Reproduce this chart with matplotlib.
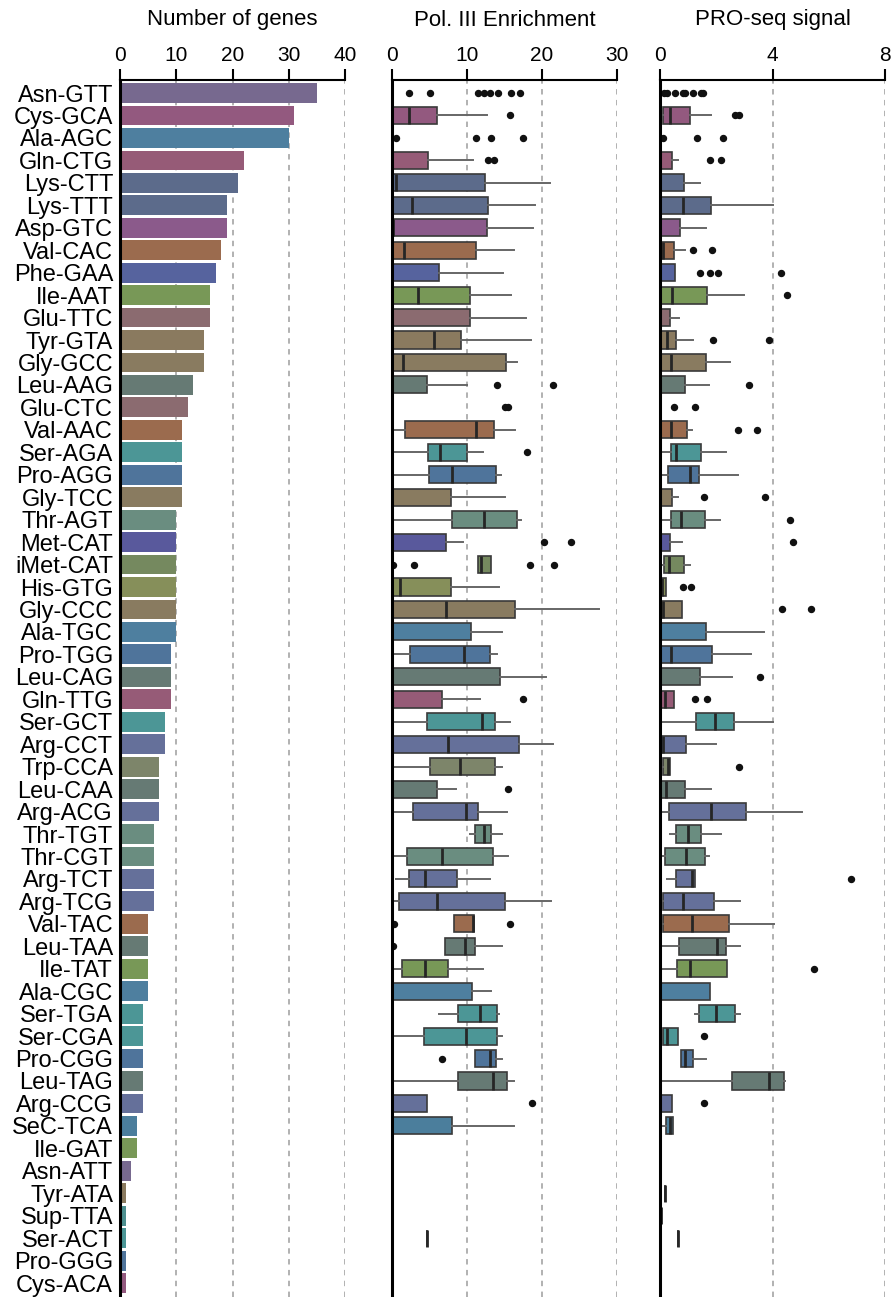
import numpy as np
import matplotlib
matplotlib.use("Agg")
import matplotlib.pyplot as plt

plt.rcParams['font.family'] = ['Liberation Sans', 'DejaVu Sans']

# tRNA isotypes, ordered by gene count
isotypes = ['Asn-GTT', 'Cys-GCA', 'Ala-AGC', 'Gln-CTG', 'Lys-CTT', 'Lys-TTT', 'Asp-GTC',
            'Val-CAC', 'Phe-GAA', 'Ile-AAT', 'Glu-TTC', 'Tyr-GTA', 'Gly-GCC', 'Leu-AAG',
            'Glu-CTC', 'Val-AAC', 'Ser-AGA', 'Pro-AGG', 'Gly-TCC', 'Thr-AGT', 'Met-CAT',
            'iMet-CAT', 'His-GTG', 'Gly-CCC', 'Ala-TGC', 'Pro-TGG', 'Leu-CAG', 'Gln-TTG',
            'Ser-GCT', 'Arg-CCT', 'Trp-CCA', 'Leu-CAA', 'Arg-ACG', 'Thr-TGT', 'Thr-CGT',
            'Arg-TCT', 'Arg-TCG', 'Val-TAC', 'Leu-TAA', 'Ile-TAT', 'Ala-CGC', 'Ser-TGA',
            'Ser-CGA', 'Pro-CGG', 'Leu-TAG', 'Arg-CCG', 'SeC-TCA', 'Ile-GAT', 'Asn-ATT',
            'Tyr-ATA', 'Sup-TTA', 'Ser-ACT', 'Pro-GGG', 'Cys-ACA']

n_genes = [35, 31, 30, 22, 21, 19, 19, 18, 17, 16, 16, 15, 15, 13, 12, 11, 11, 11, 11,
           10, 10, 10, 10, 10, 10, 9, 9, 9, 8, 8, 7, 7, 7, 6, 6, 6, 6, 5, 5, 5, 5,
           4, 4, 4, 4, 4, 3, 3, 2, 1, 1, 1, 1, 1]

nan = np.nan

# Pol. III enrichment: whisker low, Q1, median, Q3, whisker high, outliers
pol_lo = [0, 0, 0, 0, 0, 0, 0, 0, 0, 0, 0, 0, 0, 0, 0, 0, 0, 0, 0, 0, 0, 11.4, 0, 0, 0, 0,
          0, 0, 0, 0, 0, 0, 0, 10.4, 0, 0.5, 0, 8.2, 7.1, 0, 0, 6.3, 0.4, 11.1, 0, 0, 0,
          nan, nan, 0, 0, 4.7, nan, nan]
pol_q1 = [0, 0.1, 0, 0, 0, 0, 0, 0, 0, 0, 0, 0, 0, 0, 0, 1.7, 4.8, 4.9, 0, 8.0, 0, 11.4,
          0, 0, 0, 2.4, 0, 0, 4.6, 0, 5.1, 0, 2.8, 11.1, 2.0, 2.3, 0.9, 8.2, 7.1, 1.3, 0,
          8.8, 4.3, 11.1, 8.8, 0, 0, nan, nan, 0, 0, 4.7, nan, nan]
pol_med = [0, 2.3, 0, 0, 0.5, 2.7, 0.1, 1.6, 0, 3.5, 0, 5.6, 1.5, 0, 0, 11.2, 6.4, 8.0, 0,
           12.2, 0, 11.9, 1.1, 7.2, 0, 9.6, 0, 0, 12.0, 7.4, 9.1, 0, 9.9, 12.3, 6.6, 4.4,
           6.0, 10.8, 9.7, 4.4, 0, 11.7, 9.8, 13.0, 13.4, 0, 0, nan, nan, 0, 0, 4.7, nan, nan]
pol_q3 = [0, 6.0, 0, 4.8, 12.4, 12.8, 12.6, 11.2, 6.2, 10.4, 10.4, 9.2, 15.2, 4.7, 0, 13.6,
          10.0, 13.9, 7.8, 16.7, 7.2, 13.2, 7.9, 16.4, 10.5, 13.0, 14.4, 6.7, 13.7, 16.9,
          13.7, 6.0, 11.4, 13.2, 13.4, 8.7, 15.0, 10.9, 11.0, 7.5, 10.6, 14.0, 14.0, 13.8,
          15.3, 4.7, 8.0, nan, nan, 0, 0, 4.7, nan, nan]
pol_hi = [0, 12.7, 0, 10.8, 21.0, 19.0, 18.8, 16.3, 14.8, 15.8, 17.9, 18.5, 16.6, 10.0, 0,
          16.4, 12.1, 14.5, 15.1, 17.2, 9.4, 13.2, 14.2, 27.6, 14.7, 14.0, 20.5, 11.7, 15.7,
          21.4, 14.7, 8.5, 15.3, 14.6, 15.5, 13.1, 21.2, 10.9, 14.7, 12.1, 13.2, 14.3, 14.7,
          14.7, 16.2, 4.7, 16.2, nan, nan, 0, 0, 4.7, nan, nan]
pol_out = [[2.2, 5.0, 11.5, 12.2, 13.0, 14.1, 15.8, 17.0], [15.7], [0.5, 11.2, 13.2, 17.5],
           [12.8, 13.6], [], [], [], [], [], [], [], [], [], [14.0, 21.4], [15.0, 15.5], [],
           [18.0], [], [], [], [20.2, 23.8], [0.1, 2.9, 18.4, 21.6], [], [], [], [], [],
           [17.5], [], [], [], [15.5], [], [], [], [], [], [0.3, 15.7], [0.1], [], [], [],
           [], [6.7], [], [18.6], [], [], [], [], [], [], [], []]

# PRO-seq signal: same layout
pro_lo = [0, 0, 0, 0, 0, 0, 0, 0, 0, 0, 0, 0, 0, 0, 0, 0, 0, 0, 0, 0, 0, 0, 0, 0, 0, 0,
          0, 0, 0, 0, 0, 0, 0, 0.36, 0, 0.24, 0, 0, 0, 0, 0, 1.23, 0.12, 0.75, 0, 0, 0.1,
          nan, nan, 0.17, 0.04, 0.63, nan, nan]
pro_q1 = [0, 0.12, 0, 0, 0, 0, 0, 0, 0, 0, 0, 0.05, 0, 0, 0, 0, 0.39, 0.30, 0, 0.39, 0,
          0.13, 0, 0, 0, 0, 0, 0, 1.27, 0, 0.12, 0, 0.33, 0.57, 0.19, 0.57, 0.1, 0.12, 0.69,
          0.62, 0, 1.37, 0.12, 0.75, 2.56, 0, 0.21, nan, nan, 0.17, 0.04, 0.63, nan, nan]
pro_med = [0, 0.36, 0, 0, 0, 0.81, 0, 0.1, 0, 0.42, 0, 0.24, 0.38, 0, 0, 0.38, 0.57, 1.07,
           0, 0.74, 0, 0.31, 0.06, 0.12, 0, 0.38, 0, 0.18, 1.95, 0.12, 0.29, 0.21, 1.82,
           0.99, 0.93, 1.15, 0.80, 1.12, 2.02, 1.05, 0, 2.0, 0.24, 0.9, 3.89, 0, 0.36,
           nan, nan, 0.17, 0.04, 0.63, nan, nan]
pro_q3 = [0, 1.07, 0, 0.43, 0.85, 1.80, 0.70, 0.48, 0.52, 1.68, 0.37, 0.56, 1.64, 0.90, 0,
          0.95, 1.46, 1.38, 0.43, 1.61, 0.36, 0.85, 0.2, 0.79, 1.65, 1.86, 1.43, 0.5, 2.63,
          0.92, 0.36, 0.88, 3.04, 1.44, 1.61, 1.23, 1.92, 2.46, 2.35, 2.39, 1.77, 2.67,
          0.65, 1.19, 4.40, 0.42, 0.46, nan, nan, 0.17, 0.04, 0.63, nan, nan]
pro_hi = [0, 1.81, 0, 0.65, 1.43, 4.0, 1.64, 0.89, 0.52, 3.0, 0.69, 1.18, 2.48, 1.73, 0,
          1.13, 2.36, 2.79, 0.64, 2.14, 0.79, 1.07, 0.2, 0.79, 3.69, 3.25, 2.56, 0.5, 4.0,
          1.98, 0.36, 1.80, 5.04, 2.18, 1.75, 1.23, 2.85, 4.07, 2.85, 2.39, 1.77, 2.86,
          0.65, 1.64, 4.46, 0.42, 0.46, nan, nan, 0.17, 0.04, 0.63, nan, nan]
pro_out = [[0.14, 0.24, 0.54, 0.80, 0.89, 1.17, 1.45, 1.52], [2.68, 2.80], [0.12, 1.33, 2.24],
           [1.76, 2.17], [], [], [], [1.17, 1.85], [1.43, 1.76, 2.05, 4.29], [4.52], [],
           [1.87, 3.87], [], [3.17], [0.51, 1.25], [2.76, 3.46], [], [], [1.57, 3.73], [4.61],
           [4.73], [], [0.80, 1.10], [4.33, 5.37], [], [], [3.55], [1.26, 1.67], [], [],
           [2.80], [], [], [], [], [6.79], [], [], [], [5.46], [], [], [1.58], [], [],
           [1.58], [], [], [], [], [], [], [], []]

aa_colors = {'Asn': '#77698f', 'Cys': '#93597f', 'Ala': '#4e7f9f', 'Gln': '#965b77',
             'Lys': '#5c6b8b', 'Asp': '#8b5a8b', 'Val': '#9b6b4e', 'Phe': '#56639e',
             'Ile': '#789857', 'Glu': '#8b6b70', 'Tyr': '#8a7a5f', 'Gly': '#897b60',
             'Leu': '#667a74', 'Ser': '#4c9696', 'Pro': '#4f749b', 'Thr': '#6a8d80',
             'Met': '#59599c', 'iMet': '#75895f', 'His': '#868f5a', 'Trp': '#7d856a',
             'Arg': '#65709a', 'SeC': '#4b7e9c', 'Sup': '#4d8f8f'}
colors = [aa_colors[s.split('-')[0]] for s in isotypes]
ypos = np.arange(len(isotypes))

W, H = 893, 1297
fig = plt.figure(figsize=(W / 100, H / 100), dpi=100)
top = 80
axes = [fig.add_axes([120 / W, 0, 225 / W, (H - top) / H]),
        fig.add_axes([392 / W, 0, 225 / W, (H - top) / H]),
        fig.add_axes([660 / W, 0, 225 / W, (H - top) / H])]

titles = ['Number of genes', 'Pol. III Enrichment', 'PRO-seq signal']
xlims = [(0, 40), (0, 30), (0, 8)]
xticks = [[0, 10, 20, 30, 40], [0, 10, 20, 30], [0, 4, 8]]

for ax, t, xl, xt in zip(axes, titles, xlims, xticks):
    ax.set_xlim(*xl)
    ax.set_ylim(53.62, -0.58)
    ax.set_xticks(xt)
    ax.xaxis.tick_top()
    ax.tick_params(axis='x', direction='out', length=8, width=1.5, pad=3, labelsize=15)
    ax.tick_params(axis='y', length=0)
    ax.set_axisbelow(True)
    ax.grid(axis='x', linestyle=(0, (3, 3)), color='#ababab', lw=1.3)
    for s in ['right', 'bottom']:
        ax.spines[s].set_visible(False)
    ax.spines['top'].set_linewidth(1.5)
    ax.spines['left'].set_linewidth(2.2)
    ax.text(0.5, 1 + 60 / (H - top), t, transform=ax.transAxes,
            ha='center', va='center', fontsize=16)

# gene counts
ax1 = axes[0]
ax1.barh(ypos, n_genes, height=0.88, color=colors)
ax1.set_yticks(ypos)
ax1.set_yticklabels(isotypes, fontsize=17)
ax1.tick_params(axis='y', pad=5)


def draw_boxes(ax, lo, q1, med, q3, hi, out):
    stats, pos, cols = [], [], []
    for i in range(len(isotypes)):
        if np.isnan(med[i]):
            continue
        stats.append(dict(whislo=lo[i], q1=q1[i], med=med[i], q3=q3[i],
                          whishi=hi[i], fliers=out[i]))
        pos.append(ypos[i])
        cols.append(colors[i])
    res = ax.bxp(stats, positions=pos, widths=0.76, orientation='horizontal',
                 patch_artist=True, showcaps=False,
                 boxprops=dict(edgecolor='#3a3a3a', linewidth=1.2),
                 medianprops=dict(color='#262626', linewidth=2.0),
                 whiskerprops=dict(color='#666666', linewidth=1.4),
                 flierprops=dict(marker='o', markerfacecolor='#111111',
                                 markeredgecolor='#111111', markersize=4.3))
    for patch, c in zip(res['boxes'], cols):
        patch.set_facecolor(c)
    ax.set_yticks([])


draw_boxes(axes[1], pol_lo, pol_q1, pol_med, pol_q3, pol_hi, pol_out)
draw_boxes(axes[2], pro_lo, pro_q1, pro_med, pro_q3, pro_hi, pro_out)
for ax, xt in zip(axes[1:], xticks[1:]):
    ax.set_xticks(xt)
    ax.set_ylim(53.62, -0.58)

fig.savefig('out.png', dpi=100)
